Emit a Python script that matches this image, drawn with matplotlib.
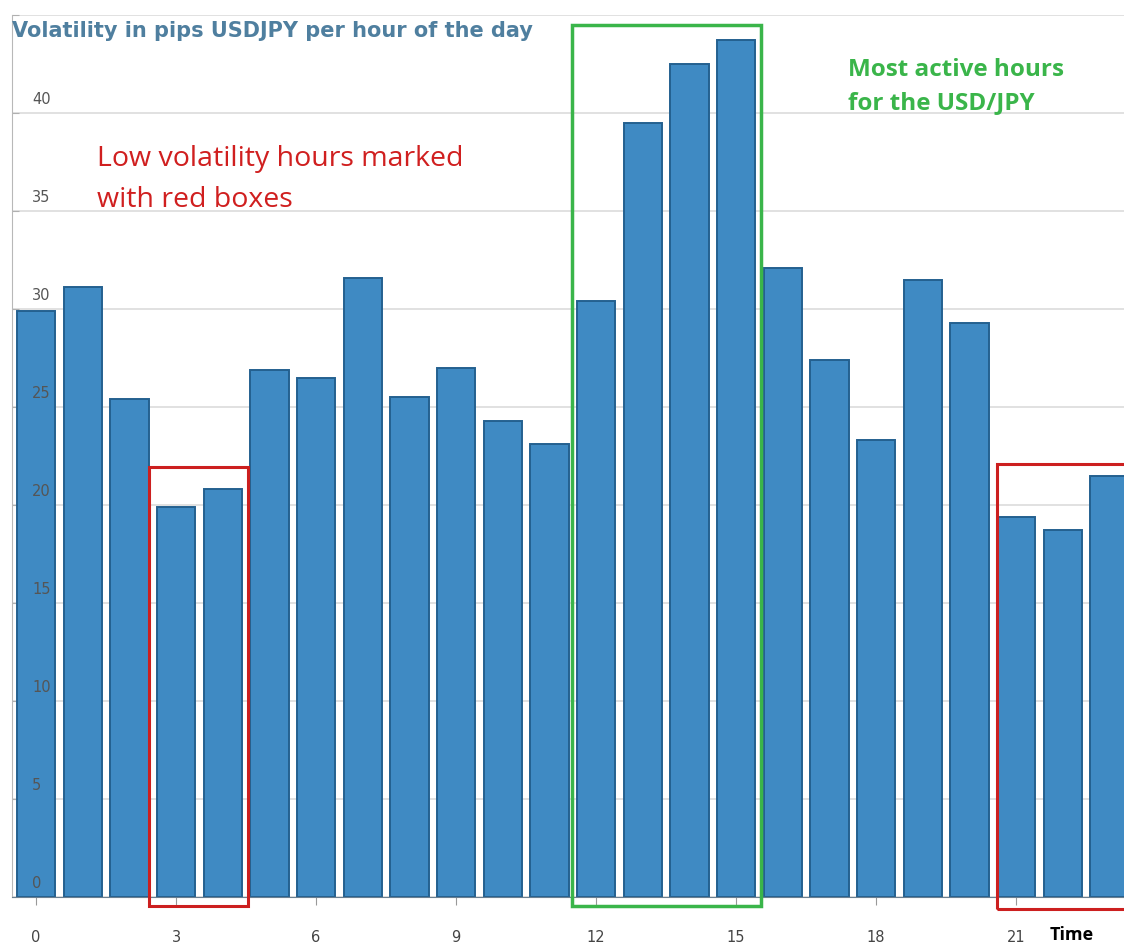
import matplotlib.pyplot as plt
import matplotlib.transforms as mtransforms
from matplotlib.patches import Rectangle
import numpy as np

# Volatility in pips per hour
hours = list(range(24))
volatility = [29.9, 31.1, 25.4, 19.9, 20.8, 26.9, 26.5, 31.6, 25.5, 27.0, 24.3, 23.1,
              30.4, 39.5, 42.5, 43.7, 32.1, 27.4, 23.3, 31.5, 29.3, 19.4, 18.7, 21.5]
xtick_pos = [0, 3, 6, 9, 12, 15, 18, 21]
ytick_pos = [0, 5, 10, 15, 20, 25, 30, 35, 40]

fig = plt.figure(figsize=(11.24, 9.47), dpi=100)
ax = fig.add_axes([0.0107, 0.0528, 0.9893, 0.9314])

ax.bar(hours, volatility, width=0.82, color="#3f8ac3", edgecolor="#24608f", linewidth=1.4, zorder=2)

ax.set_xlim(-0.514, 23.31)
ax.set_ylim(0, 45)

# grid
ax.set_yticks(ytick_pos + [45])
ax.set_yticklabels([])
ax.yaxis.grid(True, color="#dcdcdc", linewidth=1.2, zorder=0)
ax.tick_params(axis="y", length=5, color="#b0b0b0", direction="in")

# y labels sit inside the plot, just above each grid line
offset = mtransforms.ScaledTranslation(0, 13 / 100, fig.dpi_scale_trans)
for v in ytick_pos:
    ax.text(0.018, v, str(v), transform=mtransforms.blended_transform_factory(ax.transAxes, ax.transData) + offset,
            ha="left", va="center", fontsize=10.5, color="#555555", zorder=3)

ax.set_xticks(xtick_pos)
ax.set_xticklabels([str(x) for x in xtick_pos], fontsize=10.5, color="#444444")
ax.tick_params(axis="x", length=6, color="#999999", pad=18)

for s in ["top", "right"]:
    ax.spines[s].set_visible(False)
ax.spines["left"].set_color("#b8b8b8")
ax.spines["bottom"].set_color("#6a7f90")

ax.text(0.0, 44.2, "Volatility in pips USDJPY per hour of the day", fontsize=15, fontweight="bold",
        color="#4f7f9f", ha="left", va="center",
        transform=mtransforms.blended_transform_factory(ax.transAxes, ax.transData))

fig.text(1072 / 1124, 1 - 935 / 947, "Time", fontsize=13, fontweight="bold", color="black",
         ha="center", va="center", family="Open Sans")

# highlight boxes
ax.add_patch(Rectangle((2.42, -0.46), 2.12, 22.4, fill=False, edgecolor="#cc1f1f", linewidth=2.2,
                       clip_on=False, zorder=4))
ax.add_patch(Rectangle((20.59, -0.6), 3.5, 22.7, fill=False, edgecolor="#cc1f1f", linewidth=2.2,
                       clip_on=False, zorder=4))
ax.add_patch(Rectangle((11.49, -0.46), 4.04, 44.96, fill=False, edgecolor="#3ab54a", linewidth=2.5,
                       clip_on=False, zorder=4))

ax.text(1.31, 36.6, "Low volatility hours marked\nwith red boxes", fontsize=20.5, color="#d01f1f",
        ha="left", va="center", family="Open Sans", linespacing=1.6)
ax.text(17.4, 41.35, "Most active hours\nfor the USD/JPY", fontsize=17.5, fontweight="bold", color="#3ab54a",
        ha="left", va="center", family="Open Sans", linespacing=1.55)

fig.savefig("out.png", dpi=100)
